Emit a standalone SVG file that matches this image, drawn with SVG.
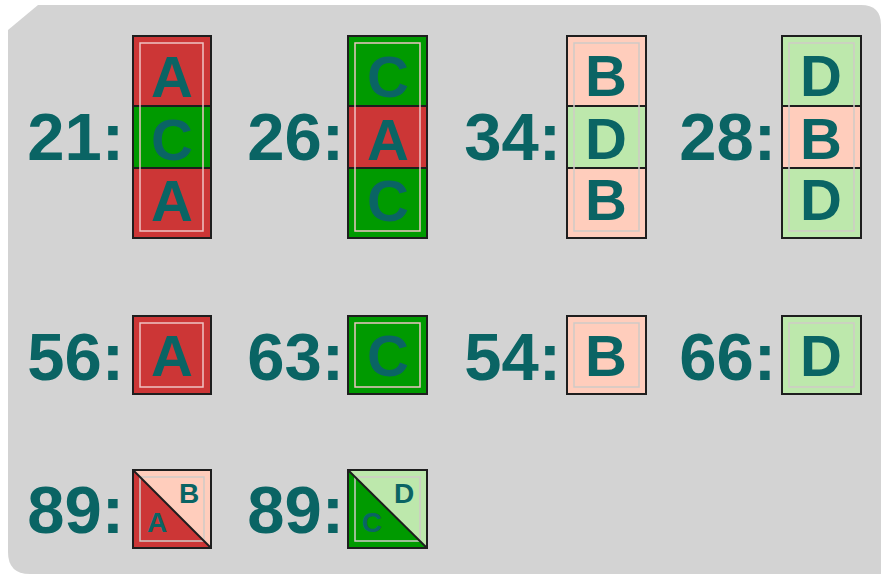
<svg xmlns="http://www.w3.org/2000/svg" width="881" height="574" viewBox="0 0 881 574">
<style>
.lbl{font-family:"Liberation Sans",Arial,sans-serif;font-weight:bold;font-size:67px;fill:#0a6464;text-anchor:end}
.big{font-family:"Liberation Sans",Arial,sans-serif;font-weight:bold;font-size:58px;fill:#0a6464;text-anchor:middle}
.sm{font-family:"Liberation Sans",Arial,sans-serif;font-weight:bold;font-size:28px;fill:#0a6464;text-anchor:middle}
.r{fill:#cc3636}
.g{fill:#009a00}
.p{fill:#ffcdbc}
.lg{fill:#bde8ac}
.bd{fill:none;stroke:#1e1e1e;stroke-width:2}
.dv{stroke:#1e1e1e;stroke-width:2}
.inD{fill:none;stroke:#eec4c4;stroke-width:1.5}
.inL{fill:none;stroke:#cfcac6;stroke-width:1.5}
</style>
<path d="M8,30 L38,5 L861,5 Q881,5 881,25 L881,574 L30,574 Q8,574 8,552 Z" fill="#d3d3d3"/>
<g id="connectors"/>
<g id="n21">
<text class="lbl" x="124" y="160">21:</text>
<rect class="r" x="133" y="36" width="78" height="70"/>
<rect class="g" x="133" y="106" width="78" height="62"/>
<rect class="r" x="133" y="168" width="78" height="70"/>
<line class="dv" x1="133" y1="106" x2="211" y2="106"/>
<line class="dv" x1="133" y1="168" x2="211" y2="168"/>
<rect class="inD" x="140" y="43" width="63" height="188"/>
<rect class="bd" x="133" y="36" width="78" height="202"/>
<text class="big" x="172" y="97">A</text>
<text class="big" x="172" y="160">C</text>
<text class="big" x="172" y="221">A</text>
</g>
<g id="n26">
<text class="lbl" x="344" y="160">26:</text>
<rect class="g" x="348" y="36" width="79" height="70"/>
<rect class="r" x="348" y="106" width="79" height="62"/>
<rect class="g" x="348" y="168" width="79" height="70"/>
<line class="dv" x1="348" y1="106" x2="427" y2="106"/>
<line class="dv" x1="348" y1="168" x2="427" y2="168"/>
<rect class="inD" x="355" y="43" width="65" height="188"/>
<rect class="bd" x="348" y="36" width="79" height="202"/>
<text class="big" x="388" y="97">C</text>
<text class="big" x="388" y="160">A</text>
<text class="big" x="388" y="221">C</text>
</g>
<g id="n34">
<text class="lbl" x="561" y="160">34:</text>
<rect class="p" x="567" y="36" width="79" height="70"/>
<rect class="lg" x="567" y="106" width="79" height="62"/>
<rect class="p" x="567" y="168" width="79" height="70"/>
<line class="dv" x1="567" y1="106" x2="646" y2="106"/>
<line class="dv" x1="567" y1="168" x2="646" y2="168"/>
<rect class="inL" x="574" y="43" width="65" height="188"/>
<rect class="bd" x="567" y="36" width="79" height="202"/>
<text class="big" x="606" y="96">B</text>
<text class="big" x="606" y="159">D</text>
<text class="big" x="606" y="220">B</text>
</g>
<g id="n28">
<text class="lbl" x="776" y="160">28:</text>
<rect class="lg" x="782" y="36" width="79" height="70"/>
<rect class="p" x="782" y="106" width="79" height="62"/>
<rect class="lg" x="782" y="168" width="79" height="70"/>
<line class="dv" x1="782" y1="106" x2="861" y2="106"/>
<line class="dv" x1="782" y1="168" x2="861" y2="168"/>
<rect class="inL" x="789" y="43" width="65" height="188"/>
<rect class="bd" x="782" y="36" width="79" height="202"/>
<text class="big" x="821" y="96">D</text>
<text class="big" x="821" y="159">B</text>
<text class="big" x="821" y="220">D</text>
</g>
<g id="n56">
<text class="lbl" x="124" y="380">56:</text>
<rect class="r" x="133" y="316" width="78" height="78"/>
<rect class="inD" x="140" y="323" width="63" height="64"/>
<rect class="bd" x="133" y="316" width="78" height="78"/>
<text class="big" x="172" y="376">A</text>
</g>
<g id="n63">
<text class="lbl" x="344" y="380">63:</text>
<rect class="g" x="348" y="316" width="79" height="78"/>
<rect class="inD" x="355" y="323" width="65" height="64"/>
<rect class="bd" x="348" y="316" width="79" height="78"/>
<text class="big" x="388" y="376">C</text>
</g>
<g id="n54">
<text class="lbl" x="561" y="380">54:</text>
<rect class="p" x="567" y="316" width="79" height="78"/>
<rect class="inL" x="574" y="323" width="65" height="64"/>
<rect class="bd" x="567" y="316" width="79" height="78"/>
<text class="big" x="606" y="376">B</text>
</g>
<g id="n66">
<text class="lbl" x="776" y="380">66:</text>
<rect class="lg" x="782" y="316" width="79" height="78"/>
<rect class="inL" x="789" y="323" width="65" height="64"/>
<rect class="bd" x="782" y="316" width="79" height="78"/>
<text class="big" x="821" y="376">D</text>
</g>
<g id="n89ab">
<text class="lbl" x="124" y="533">89:</text>
<polygon class="p" points="133,470 211,470 211,548"/>
<polygon class="r" points="133,470 211,548 133,548"/>
<rect class="inL" x="140" y="477" width="64" height="64"/>
<line class="dv" x1="133" y1="470" x2="211" y2="548"/>
<rect class="bd" x="133" y="470" width="78" height="78"/>
<text class="sm" x="189" y="503">B</text>
<text class="sm" x="157" y="532">A</text>
</g>
<g id="n89cd">
<text class="lbl" x="344" y="533">89:</text>
<polygon class="lg" points="348,470 427,470 427,548"/>
<polygon class="g" points="348,470 427,548 348,548"/>
<rect class="inL" x="355" y="477" width="65" height="64"/>
<line class="dv" x1="348" y1="470" x2="427" y2="548"/>
<rect class="bd" x="348" y="470" width="79" height="78"/>
<text class="sm" x="404" y="503">D</text>
<text class="sm" x="372" y="532">C</text>
</g>
</svg>
